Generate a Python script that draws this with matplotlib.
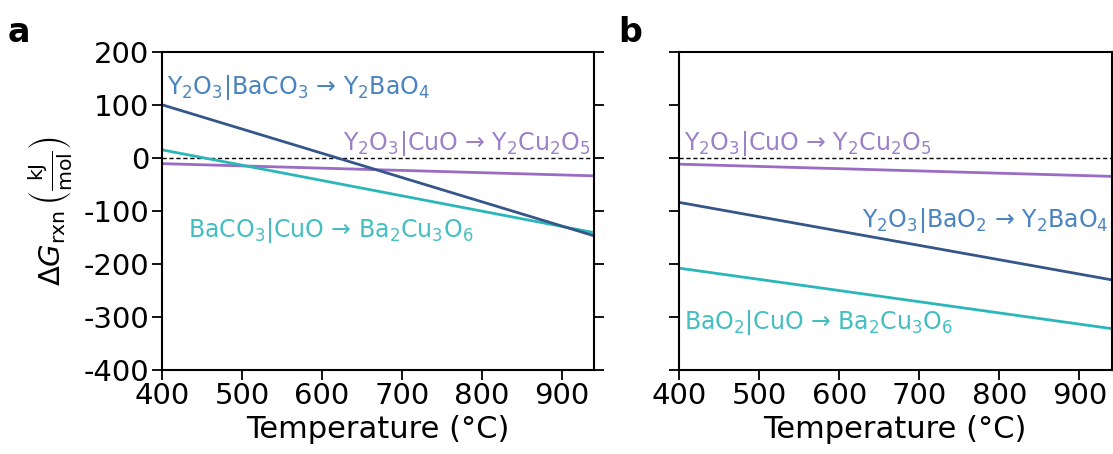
import matplotlib
matplotlib.use("Agg")
import matplotlib.pyplot as plt

# ---- data ----
temps = [400, 940]
# panel a
a_y2o3_baco3 = [100, -147]
a_baco3_cuo = [15, -141]
a_y2o3_cuo = [-11, -34]
# panel b
b_y2o3_cuo = [-12, -35]
b_y2o3_bao2 = [-84, -230]
b_bao2_cuo = [-208, -322]

xticks = [400, 500, 600, 700, 800, 900]
yticks = [-400, -300, -200, -100, 0, 100, 200]

c_blue = "#36568a"
c_teal = "#2bb6b8"
c_purple = "#9a6cc4"
t_blue = "#4a84c0"
t_teal = "#43bfc2"
t_purple = "#9c80c8"

plt.rcParams['font.family'] = ['DejaVu Sans']
plt.rcParams['axes.unicode_minus'] = False

W, H = 1113, 454
fig = plt.figure(figsize=(W / 100, H / 100), dpi=100)

def px_axes(x0, x1, y0, y1):
    return fig.add_axes([x0 / W, 1 - y1 / H, (x1 - x0) / W, (y1 - y0) / H])

axa = px_axes(162, 594, 51.7, 370)
axb = px_axes(679, 1111.5, 51.7, 370)

FS_T = 21
FS_A = 17

for ax in (axa, axb):
    ax.set_xlim(400, 940)
    ax.set_ylim(-400, 200)
    ax.set_xticks(xticks)
    ax.set_yticks(yticks)
    ax.axhline(0, color="black", ls=(0, (3, 2)), lw=1.0, zorder=1)
    ax.tick_params(axis='both', direction='out', length=7, width=1.3,
                   labelsize=FS_T, left=True, right=True, top=False, pad=2)
    for s in ax.spines.values():
        s.set_linewidth(1.5)
    ax.set_xlabel("Temperature (°C)", fontsize=22, labelpad=3)

axa.plot(temps, a_y2o3_cuo, color=c_purple, lw=2)
axa.plot(temps, a_baco3_cuo, color=c_teal, lw=2)
axa.plot(temps, a_y2o3_baco3, color=c_blue, lw=2)

axa.text(406, 121, r"Y$_2$O$_3$|BaCO$_3$ → Y$_2$BaO$_4$", color=t_blue, fontsize=FS_A)
axa.text(936, 14, r"Y$_2$O$_3$|CuO → Y$_2$Cu$_2$O$_5$", color=t_purple, fontsize=FS_A, ha='right')
axa.text(432, -150, r"BaCO$_3$|CuO → Ba$_2$Cu$_3$O$_6$", color=t_teal, fontsize=FS_A)

axa.set_ylabel(r"$\Delta G_{\rm rxn}\,\left(\frac{\rm kJ}{\rm mol}\right)$", fontsize=21, labelpad=6)

axb.plot(temps, b_y2o3_cuo, color=c_purple, lw=2)
axb.plot(temps, b_y2o3_bao2, color=c_blue, lw=2)
axb.plot(temps, b_bao2_cuo, color=c_teal, lw=2)
axb.set_yticklabels([])

axb.text(406, 14, r"Y$_2$O$_3$|CuO → Y$_2$Cu$_2$O$_5$", color=t_purple, fontsize=FS_A)
axb.text(936, -131, r"Y$_2$O$_3$|BaO$_2$ → Y$_2$BaO$_4$", color=t_blue, fontsize=FS_A, ha='right')
axb.text(406, -322, r"BaO$_2$|CuO → Ba$_2$Cu$_3$O$_6$", color=t_teal, fontsize=FS_A)

fig.text(8 / W, 1 - 42 / H, "a", fontsize=24, fontweight='bold')
fig.text(618 / W, 1 - 42 / H, "b", fontsize=24, fontweight='bold')

fig.savefig("out.png", dpi=100)
